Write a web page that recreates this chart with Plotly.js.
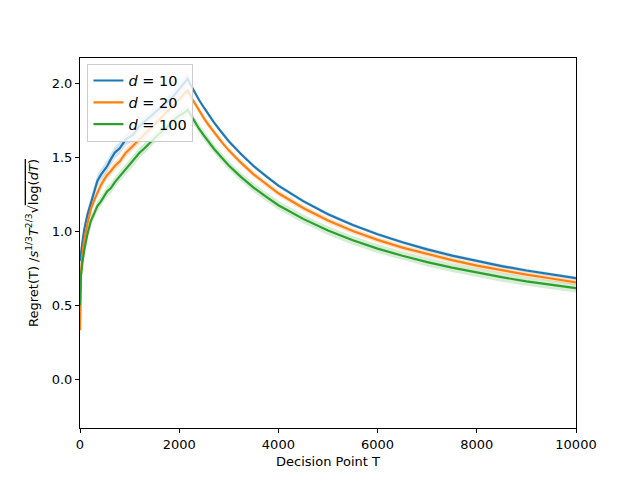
<!DOCTYPE html>
<html>
<head>
<meta charset="utf-8">
<script src="https://cdn.plot.ly/plotly-3.0.1.min.js"></script>
<style>html,body{margin:0;padding:0;background:#fff;}#chart{width:640px;height:480px;}</style>
</head>
<body>
<div id="chart"></div>
<script>
// Decision points T
const T = [1, 20, 50, 85, 150, 220, 300, 350, 420, 490, 550, 620, 700, 800, 925, 1065, 1200, 1300, 1470, 1600, 1750, 1880, 2000, 2100, 2170,
           2250, 2300, 2400, 2500, 2600, 2700, 2850, 3000, 3250, 3500, 3750, 4000, 4500, 5000, 5500, 6000, 6500, 7000, 7500, 8000, 8500, 9000, 9500, 10000];
// Normalized regret, d = 10
const d10 = [0.80, 0.86, 0.93, 1.01, 1.11, 1.19, 1.29, 1.34, 1.38, 1.41, 1.44, 1.485, 1.53, 1.56, 1.62, 1.65, 1.71, 1.74, 1.79, 1.83, 1.87, 1.91, 1.96, 2.00, 2.03,
             1.978, 1.947, 1.886, 1.834, 1.784, 1.735, 1.670, 1.608, 1.520, 1.440, 1.372, 1.307, 1.203, 1.115, 1.041, 0.979, 0.925, 0.877, 0.835, 0.797, 0.764, 0.734, 0.706, 0.682];
// d = 20
const d20 = [0.33, 0.72, 0.85, 0.94, 1.05, 1.15, 1.22, 1.26, 1.31, 1.35, 1.38, 1.405, 1.44, 1.47, 1.53, 1.575, 1.62, 1.65, 1.71, 1.75, 1.80, 1.845, 1.89, 1.93, 1.95,
             1.900, 1.871, 1.812, 1.762, 1.714, 1.667, 1.605, 1.546, 1.461, 1.384, 1.319, 1.256, 1.157, 1.072, 1.001, 0.941, 0.889, 0.844, 0.804, 0.767, 0.735, 0.706, 0.680, 0.654];
// d = 100
const d100 = [0.50, 0.70, 0.79, 0.87, 0.98, 1.07, 1.13, 1.17, 1.20, 1.24, 1.27, 1.29, 1.33, 1.37, 1.42, 1.47, 1.53, 1.56, 1.62, 1.66, 1.70, 1.75, 1.78, 1.80, 1.82,
              1.774, 1.747, 1.692, 1.646, 1.601, 1.557, 1.499, 1.444, 1.365, 1.294, 1.233, 1.175, 1.083, 1.004, 0.938, 0.882, 0.834, 0.791, 0.754, 0.719, 0.689, 0.661, 0.637, 0.615];
// band half-widths (rising phase, decaying phase) per series
const bandRise = [0.04, 0.03, 0.035];
const bandDecay = [0.012, 0.02, 0.03];
const peakT = 2170;
const labels = ['<i>d</i> = 10', '<i>d</i> = 20', '<i>d</i> = 100'];
const colors = ['#1f77b4', '#ff7f0e', '#2ca02c'];
const fills = ['rgba(31,119,180,0.2)', 'rgba(255,127,14,0.2)', 'rgba(44,160,44,0.2)'];
const series = [d10, d20, d100];

const traces = [];
series.forEach((ys, i) => {
  const up = ys.map((v, k) => v + (T[k] <= peakT ? bandRise[i] : bandDecay[i]));
  const lo = ys.map((v, k) => v - (T[k] <= peakT ? bandRise[i] : bandDecay[i]));
  traces.push({
    x: T.concat(T.slice().reverse()),
    y: up.concat(lo.slice().reverse()),
    type: 'scatter', mode: 'lines', fill: 'toself',
    fillcolor: fills[i], line: {width: 0}, hoverinfo: 'skip', showlegend: false
  });
});
series.forEach((ys, i) => {
  traces.push({
    x: T, y: ys, type: 'scatter', mode: 'lines', name: labels[i],
    line: {color: colors[i], width: 2.2}
  });
});

const axisCommon = {
  showline: true, mirror: true, linecolor: '#000', linewidth: 1,
  ticks: 'outside', ticklen: 4, tickwidth: 1, tickcolor: '#000',
  showgrid: false, zeroline: false,
  tickfont: {family: 'DejaVu Sans', size: 13, color: '#000'}
};

const layout = {
  width: 640, height: 480,
  margin: {l: 80, r: 64, t: 58, b: 52},
  paper_bgcolor: '#fff', plot_bgcolor: '#fff',
  font: {family: 'DejaVu Sans', size: 13, color: '#000'},
  xaxis: Object.assign({}, axisCommon, {
    range: [0, 10000], tickvals: [0, 2000, 4000, 6000, 8000, 10000],
    ticktext: ['0', '2000', '4000', '6000', '8000', '10000'],
    title: {text: 'Decision Point T', font: {family: 'DejaVu Sans', size: 13}, standoff: 6}
  }),
  yaxis: Object.assign({}, axisCommon, {
    range: [-0.33, 2.17], tickvals: [0, 0.5, 1, 1.5, 2],
    ticktext: ['0.0', '0.5', '1.0', '1.5', '2.0'],
    title: {text: "Regret(T) /<i>s</i><sup>1/3</sup><i>T</i><sup>2/3</sup>√<span style='text-decoration:overline'>log(<i>dT</i>)</span>",
            font: {family: 'DejaVu Sans', size: 13}, standoff: 10}
  }),
  legend: {
    x: 0.015, y: 0.985, xanchor: 'left', yanchor: 'top',
    bgcolor: 'rgba(255,255,255,0.8)', bordercolor: '#cccccc', borderwidth: 1,
    font: {family: 'DejaVu Sans', size: 14.5}, tracegroupgap: 0
  },
  showlegend: true
};

Plotly.newPlot('chart', traces, layout, {displayModeBar: false, staticPlot: true});
</script>
</body>
</html>
